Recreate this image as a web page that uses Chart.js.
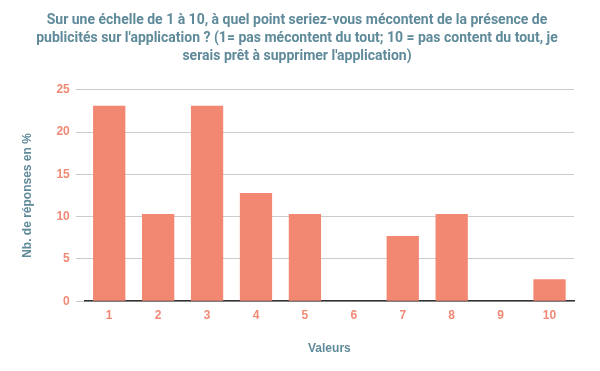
<!DOCTYPE html>
<html>
<head>
<meta charset="utf-8">
<script src="https://cdn.jsdelivr.net/npm/chart.js@4"></script>
<style>
  html, body { margin: 0; padding: 0; background: #fff; }
  #wrap { width: 600px; height: 371px; }
</style>
</head>
<body>
<div id="wrap"><canvas id="chart"></canvas></div>
<script>
// Données (pourcentage de réponses)
const categories = ["1", "2", "3", "4", "5", "6", "7", "8", "9", "10"];
const responses = [23.1, 10.3, 23.1, 12.8, 10.3, 0, 7.7, 10.3, 0, 2.6];
const yTicks = [0, 5, 10, 15, 20, 25];

const titleLines = [
  "Sur une échelle de 1 à 10, à quel point seriez-vous mécontent de la présence de",
  "publicités sur l'application ? (1= pas mécontent du tout; 10 = pas content du tout, je",
  "serais prêt à supprimer l'application)",
];

const barColor = "#f28872";
const tickColor = "#f08a75";
const titleColor = "#5f8a9a";

new Chart(document.getElementById("chart").getContext("2d"), {
  type: "bar",
  data: {
    labels: categories,
    datasets: [
      {
        label: "Nb. de réponses en %",
        data: responses,
        backgroundColor: barColor,
        categoryPercentage: 1,
        barPercentage: 0.66,
      },
    ],
  },
  options: {
    responsive: true,
    maintainAspectRatio: false,
    animation: false,
    layout: { padding: { left: 20, right: 26, top: 8, bottom: 15 } },
    plugins: {
      legend: { display: false },
      tooltip: { enabled: false },
      title: {
        display: true,
        text: titleLines,
        color: titleColor,
        font: { family: "Roboto", size: 14, weight: "bold", lineHeight: 1.28 },
        padding: { top: 4, bottom: 24 },
      },
    },
    scales: {
      x: {
        grid: { display: false, drawTicks: false },
        border: { display: true, color: "#333333", width: 1.5 },
        ticks: {
          color: tickColor,
          font: { family: "Liberation Sans", size: 12, weight: "bold" },
          padding: 7,
        },
        title: {
          display: true,
          text: "Valeurs",
          color: titleColor,
          font: { family: "Liberation Sans", size: 12, weight: "bold" },
          padding: { top: 12, bottom: 0 },
        },
      },
      y: {
        min: 0,
        max: 25,
        afterBuildTicks: (axis) => {
          axis.ticks = yTicks.map((v) => ({ value: v }));
        },
        grid: { color: "#cccccc", tickLength: 9, drawTicks: true },
        border: { display: false },
        ticks: {
          color: tickColor,
          font: { family: "Liberation Sans", size: 12, weight: "bold" },
          padding: 6,
        },
        title: {
          display: true,
          text: "Nb. de réponses en %",
          color: titleColor,
          font: { family: "Liberation Sans", size: 12, weight: "bold" },
          padding: { top: 0, bottom: 16 },
        },
      },
    },
  },
});
</script>
</body>
</html>
